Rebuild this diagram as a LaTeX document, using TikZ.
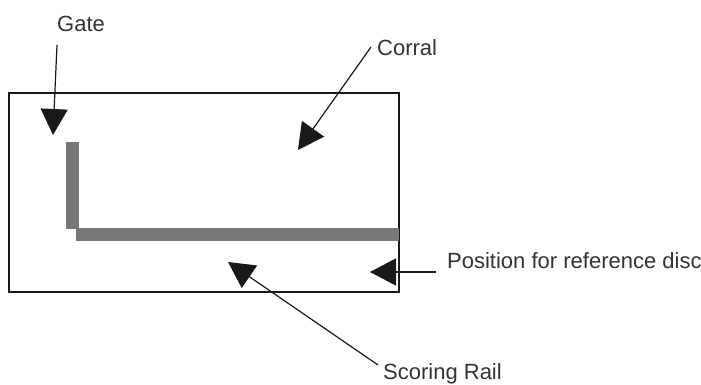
\documentclass[tikz,border=0pt]{standalone}
\usepackage{fontspec}
\setmainfont{Liberation Sans}
\usetikzlibrary{arrows.meta}
\tikzset{
  lbl/.style={inner sep=0pt, anchor=base west, font=\fontsize{22}{24}\selectfont, text=black!80},
  pointer/.style={line width=1.2pt, draw=black!90, -{Triangle[length=26pt,width=27pt]}},
  rail/.style={fill=black!53, draw=none},
  pen/.style={line width=1.3pt, draw=black!90},
}
\begin{document}
\begin{tikzpicture}[x=1pt,y=-1pt]
  \useasboundingbox (0,0) rectangle (701,385);
  % arena outline
  \draw[pen] (9,93) rectangle (399,292);
  % gate rail and scoring rail
  \fill[rail] (66,142) rectangle (79,229);
  \fill[rail] (76,228) rectangle (399,241);
  % labels
  \node[lbl] (gate) at (57,32) {Gate};
  \node[lbl] (corral) at (377,56) {Corral};
  \node[lbl] (scoring) at (383,379) {Scoring Rail};
  \node[lbl] (disc) at (447,268) {Position for reference disc};
  % arrow end points
  \coordinate (gateTip) at (53,135);
  \coordinate (gateFrom) at (57,45);
  \coordinate (corralFrom) at (371,47);
  \coordinate (corralTip) at (298,150);
  \coordinate (scoringFrom) at (378,365);
  \coordinate (scoringTip) at (228,262);
  \coordinate (discFrom) at (436,272);
  \coordinate (discTip) at (370,272);
  % pointers
  \draw[pointer] (gateFrom) -- (gateTip);
  \draw[pointer] (corralFrom) -- (corralTip);
  \draw[pointer] (scoringFrom) -- (scoringTip);
  \draw[pointer] (discFrom) -- (discTip);
\end{tikzpicture}
\end{document}
